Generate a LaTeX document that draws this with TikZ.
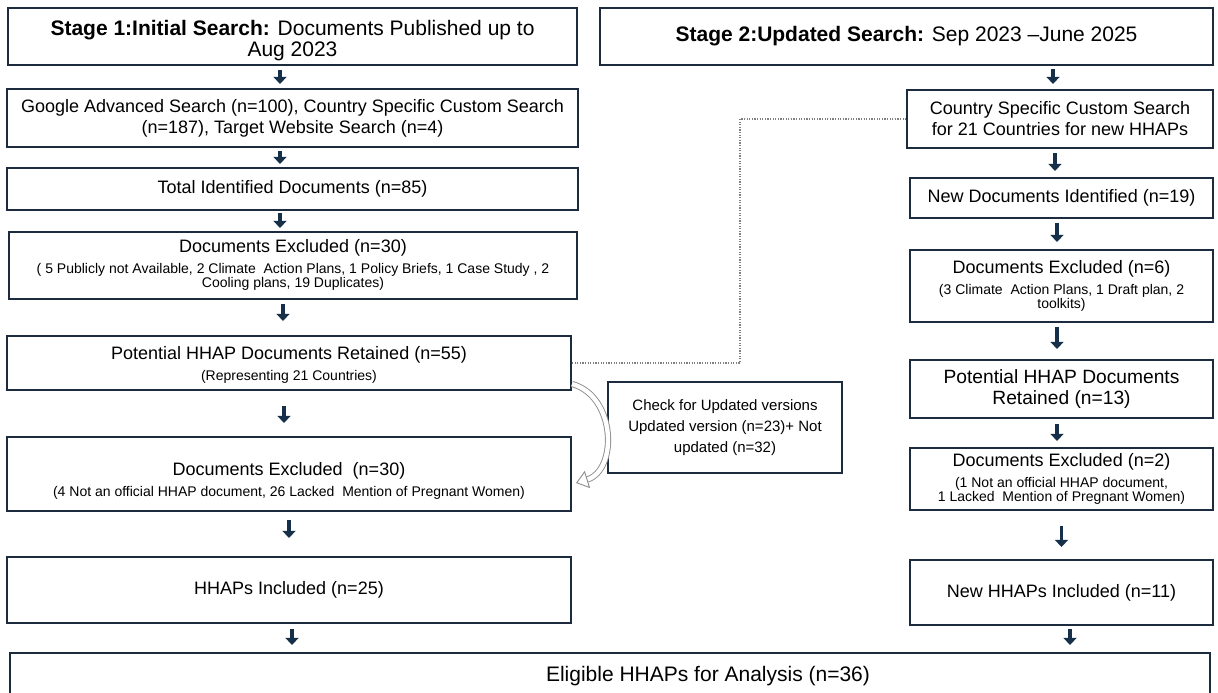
\documentclass[tikz,border=0pt]{standalone}
\usepackage{fontspec}
\setmainfont{Liberation Sans}
\usepackage{tikz}
\usetikzlibrary{
    arrows.meta,
    calc,
    positioning
}
\definecolor{boxnavy}{RGB}{28,44,62}
\definecolor{arrownavy}{RGB}{22,48,74}
\newcommand{\titlefont}{\fontsize{10.5}{11}\selectfont}
\newcommand{\boxfont}{\fontsize{9}{10.5}\selectfont}
\newcommand{\notefont}{\fontsize{7}{6.6}\selectfont}
\newcommand{\checkfont}{\fontsize{7.5}{9.5}\selectfont}
\newcommand{\smallnote}[1]{{\notefont\begin{tabular}[t]{@{}c@{}}#1\end{tabular}}}
\tikzset{
    box/.style={draw=boxnavy, line width=1pt, fill=white, align=center, inner sep=0pt, font=\boxfont},
    flow/.style={draw=arrownavy, line width=1.8pt, -{Triangle[length=3.6pt,width=6.5pt]}},
    link/.style={draw=gray, line width=0.55pt, dash pattern=on 0.6pt off 0.7pt},
    hollow/.style={draw=gray!90, line width=0.45pt, double=white, double distance=2.2pt,
        -{Triangle[open,length=6pt,width=9pt]}}
}

\begin{document}
\begin{tikzpicture}[x=0.5pt, y=-0.5pt]
    \useasboundingbox (0,0) rectangle (1218,692);
    % stage 1 column
    \node[box, minimum width=284.5pt, minimum height=28.5pt] (s1) at (292.5,36.5)
        {\titlefont\rule{0pt}{12pt}\textbf{Stage 1:Initial Search:} Documents Published up to\\\titlefont Aug 2023};
    \node[box, minimum width=285.5pt, minimum height=29pt] (srch) at (292.5,118)
        {Google Advanced Search (n=100), Country Specific Custom Search\\(n=187), Target Website Search (n=4)};
    \node[box, minimum width=285.5pt, minimum height=21pt] (tot) at (292.5,189)
        {Total Identified Documents (n=85)};
    \node[box, minimum width=284pt, minimum height=33.5pt] (exA) at (293,265.5)
        {Documents Excluded (n=30)\\\smallnote{( 5 Publicly not Available, 2 Climate\ \ Action Plans, 1 Policy Briefs, 1 Case Study , 2\\Cooling plans, 19 Duplicates)}};
    \node[box, minimum width=282pt, minimum height=27pt] (ret) at (289,363)
        {\rule{0pt}{9pt}Potential HHAP Documents Retained (n=55)\\\smallnote{(Representing 21 Countries)}};
    \node[box, minimum width=282pt, minimum height=37pt] (exB) at (289,474)
        {\\[3pt]Documents Excluded\ \ (n=30)\\\smallnote{(4 Not an official HHAP document, 26 Lacked\ \ Mention of Pregnant Women)}};
    \node[box, minimum width=282pt, minimum height=33pt] (inc) at (289,590)
        {HHAPs Included (n=25)};
    % stage 2 column
    \node[box, minimum width=306.5pt, minimum height=28.5pt] (s2) at (906.5,36.5)
        {\titlefont\textbf{Stage 2:Updated Search:} Sep 2023 --June 2025};
    \node[box, minimum width=153pt, minimum height=29pt] (css) at (1060,119)
        {Country Specific Custom Search\\for 21 Countries for new HHAPs};
    \node[box, minimum width=151.5pt, minimum height=20pt] (nid) at (1061.5,198)
        {New Documents Identified (n=19)};
    \node[box, minimum width=151.5pt, minimum height=36pt] (exC) at (1061.5,286)
        {Documents Excluded (n=6)\\\smallnote{(3 Climate\ \ Action Plans, 1 Draft plan, 2\\toolkits)}};
    \node[box, minimum width=151.5pt, minimum height=29pt] (ret2) at (1061.5,389)
        {\fontsize{9.6}{11}\selectfont Potential HHAP Documents\\\fontsize{9.6}{11}\selectfont Retained (n=13)};
    \node[box, minimum width=151.5pt, minimum height=31pt] (exD) at (1061.5,479)
        {Documents Excluded (n=2)\\\smallnote{(1 Not an official HHAP document,\\1 Lacked\ \ Mention of Pregnant Women)}};
    \node[box, minimum width=151.5pt, minimum height=32.5pt] (ninc) at (1061.5,592.5)
        {New HHAPs Included (n=11)};
    \node[box, minimum width=117pt, minimum height=45.5pt] (chk) at (725,427.5)
        {\checkfont Check for Updated versions\\\checkfont Updated version (n=23)+ Not\\\checkfont updated (n=32)};
    % merged result
    \node[box, minimum width=600pt, minimum height=23pt] (fin) at (610,676)
        {\titlefont\hspace*{98pt}Eligible HHAPs for Analysis (n=36)};

    % arrows stage 1
    \draw[flow, shorten <=2pt, shorten >=2pt] ([xshift=-6.25pt]s1.south) -- ([xshift=-6.25pt]srch.north);
    \draw[flow, shorten <=1.5pt, shorten >=1.5pt] ([xshift=-6.25pt]srch.south) -- ([xshift=-6.25pt]tot.north);
    \draw[flow, shorten <=1pt, shorten >=1.5pt] ([xshift=-6.25pt]tot.south) -- ([xshift=-6.5pt]exA.north);
    \draw[flow, shorten <=2pt, shorten >=7pt] ([xshift=-5pt]exA.south) -- ([xshift=-3pt]ret.north);
    \draw[flow, shorten <=7.5pt, shorten >=6.5pt] ([xshift=-2.5pt]ret.south) -- ([xshift=-2.5pt]exB.north);
    \draw[flow, shorten <=4pt, shorten >=9pt] (exB.south) -- (inc.north);
    \draw[flow, shorten <=2.5pt, shorten >=3.5pt] ([xshift=1.5pt]inc.south) -- ([xshift=-159pt]fin.north);
    % arrows stage 2
    \draw[flow, shorten <=1.5pt, shorten >=2.5pt] ([xshift=73.25pt]s2.south) -- ([xshift=-3.5pt]css.north);
    \draw[flow, shorten <=2pt, shorten >=3pt] ([xshift=-2.5pt]css.south) -- ([xshift=-3.25pt]nid.north);
    \draw[flow, shorten <=2pt, shorten >=3.5pt] ([xshift=-2.25pt]nid.south) -- ([xshift=-2.25pt]exC.north);
    \draw[flow, shorten <=2pt, shorten >=5pt] ([xshift=-2.25pt]exC.south) -- ([xshift=-2.25pt]ret2.north);
    \draw[flow, shorten <=2.5pt, shorten >=3pt] ([xshift=-2.25pt]ret2.south) -- ([xshift=-2.25pt]exD.north);
    \draw[flow, shorten <=7.5pt, shorten >=6pt] (exD.south) -- (ninc.north);
    \draw[flow, shorten <=1.5pt, shorten >=3.5pt] ([xshift=4.25pt]ninc.south) -- ([xshift=230pt]fin.north);

    % link between the two searches
    \coordinate (bend) at (740,363);
    \draw[link] (ret.east) -- (bend) |- (css.west);
    % update check
    \draw[hollow] ([yshift=3.5pt]ret.south east) .. controls +(44,12) and +(42,-13) .. ([xshift=2pt,yshift=-4.5pt]exB.east);
\end{tikzpicture}
\end{document}
